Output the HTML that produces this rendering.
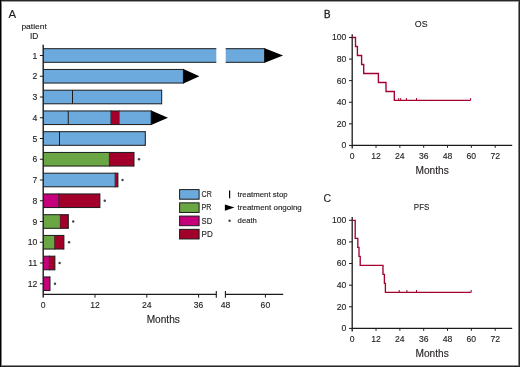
<!DOCTYPE html>
<html><head><meta charset="utf-8"><style>
html,body{margin:0;padding:0;background:#fff;}
#fig{position:relative;width:520px;height:367px;overflow:hidden;background:#fff;}
</style></head><body><div id="fig">
<svg width="520" height="367" viewBox="0 0 520 367" style="position:absolute;left:0;top:0;will-change:transform">
<rect x="0" y="0" width="520" height="367" fill="#fff"/>
<text x="8.60" y="18.00" font-size="11.4" font-family="Liberation Sans, sans-serif" fill="#231f20" stroke="#231f20" stroke-width="0.14" text-anchor="start">A</text>
<text x="34.10" y="28.50" font-size="8.0" font-family="Liberation Sans, sans-serif" fill="#231f20" stroke="#231f20" stroke-width="0.14" text-anchor="middle" textLength="25.4" lengthAdjust="spacingAndGlyphs">patient</text>
<text x="34.10" y="39.10" font-size="8.3" font-family="Liberation Sans, sans-serif" fill="#231f20" stroke="#231f20" stroke-width="0.14" text-anchor="middle">ID</text>
<rect x="43.20" y="48.70" width="173.10" height="13.60" fill="#6caadd"/>
<line x1="43.20" y1="48.70" x2="216.30" y2="48.70" stroke="#1c1a1a" stroke-width="1"/>
<line x1="43.20" y1="62.30" x2="216.30" y2="62.30" stroke="#1c1a1a" stroke-width="1"/>
<rect x="225.70" y="48.70" width="38.90" height="13.60" fill="#6caadd"/>
<line x1="225.70" y1="48.70" x2="264.60" y2="48.70" stroke="#1c1a1a" stroke-width="1"/>
<line x1="225.70" y1="62.30" x2="264.60" y2="62.30" stroke="#1c1a1a" stroke-width="1"/>
<line x1="264.60" y1="48.20" x2="264.60" y2="62.80" stroke="#1c1a1a" stroke-width="1"/>
<polygon points="264.60,48.20 283.10,55.50 264.60,62.80" fill="#000"/>
<line x1="39.90" y1="55.50" x2="43.20" y2="55.50" stroke="#1c1a1a" stroke-width="1"/>
<text x="37.20" y="58.50" font-size="8.6" font-family="Liberation Sans, sans-serif" fill="#231f20" stroke="#231f20" stroke-width="0.14" text-anchor="end">1</text>
<rect x="43.20" y="69.45" width="140.20" height="13.60" fill="#6caadd"/>
<line x1="43.20" y1="69.45" x2="183.40" y2="69.45" stroke="#1c1a1a" stroke-width="1"/>
<line x1="43.20" y1="83.05" x2="183.40" y2="83.05" stroke="#1c1a1a" stroke-width="1"/>
<line x1="183.40" y1="68.95" x2="183.40" y2="83.55" stroke="#1c1a1a" stroke-width="1"/>
<polygon points="183.40,68.95 199.40,76.25 183.40,83.55" fill="#000"/>
<line x1="39.90" y1="76.25" x2="43.20" y2="76.25" stroke="#1c1a1a" stroke-width="1"/>
<text x="37.20" y="79.25" font-size="8.6" font-family="Liberation Sans, sans-serif" fill="#231f20" stroke="#231f20" stroke-width="0.14" text-anchor="end">2</text>
<rect x="43.20" y="90.20" width="118.50" height="13.60" fill="#6caadd"/>
<line x1="43.20" y1="90.20" x2="161.70" y2="90.20" stroke="#1c1a1a" stroke-width="1"/>
<line x1="43.20" y1="103.80" x2="161.70" y2="103.80" stroke="#1c1a1a" stroke-width="1"/>
<line x1="161.70" y1="89.70" x2="161.70" y2="104.30" stroke="#1c1a1a" stroke-width="1"/>
<line x1="72.50" y1="90.20" x2="72.50" y2="103.80" stroke="#1c1a1a" stroke-width="1"/>
<line x1="39.90" y1="97.00" x2="43.20" y2="97.00" stroke="#1c1a1a" stroke-width="1"/>
<text x="37.20" y="100.00" font-size="8.6" font-family="Liberation Sans, sans-serif" fill="#231f20" stroke="#231f20" stroke-width="0.14" text-anchor="end">3</text>
<rect x="43.20" y="110.95" width="67.80" height="13.60" fill="#6caadd"/>
<line x1="43.20" y1="110.95" x2="111.00" y2="110.95" stroke="#1c1a1a" stroke-width="1"/>
<line x1="43.20" y1="124.55" x2="111.00" y2="124.55" stroke="#1c1a1a" stroke-width="1"/>
<line x1="111.00" y1="110.45" x2="111.00" y2="125.05" stroke="#1c1a1a" stroke-width="1"/>
<rect x="111.00" y="110.95" width="8.50" height="13.60" fill="#a2002b"/>
<line x1="111.00" y1="110.95" x2="119.50" y2="110.95" stroke="#1c1a1a" stroke-width="1"/>
<line x1="111.00" y1="124.55" x2="119.50" y2="124.55" stroke="#1c1a1a" stroke-width="1"/>
<line x1="119.50" y1="110.45" x2="119.50" y2="125.05" stroke="#1c1a1a" stroke-width="1"/>
<rect x="119.50" y="110.95" width="31.70" height="13.60" fill="#6caadd"/>
<line x1="119.50" y1="110.95" x2="151.20" y2="110.95" stroke="#1c1a1a" stroke-width="1"/>
<line x1="119.50" y1="124.55" x2="151.20" y2="124.55" stroke="#1c1a1a" stroke-width="1"/>
<line x1="151.20" y1="110.45" x2="151.20" y2="125.05" stroke="#1c1a1a" stroke-width="1"/>
<line x1="68.25" y1="110.95" x2="68.25" y2="124.55" stroke="#1c1a1a" stroke-width="1"/>
<polygon points="151.20,110.45 168.00,117.75 151.20,125.05" fill="#000"/>
<line x1="39.90" y1="117.75" x2="43.20" y2="117.75" stroke="#1c1a1a" stroke-width="1"/>
<text x="37.20" y="120.75" font-size="8.6" font-family="Liberation Sans, sans-serif" fill="#231f20" stroke="#231f20" stroke-width="0.14" text-anchor="end">4</text>
<rect x="43.20" y="131.70" width="102.10" height="13.60" fill="#6caadd"/>
<line x1="43.20" y1="131.70" x2="145.30" y2="131.70" stroke="#1c1a1a" stroke-width="1"/>
<line x1="43.20" y1="145.30" x2="145.30" y2="145.30" stroke="#1c1a1a" stroke-width="1"/>
<line x1="145.30" y1="131.20" x2="145.30" y2="145.80" stroke="#1c1a1a" stroke-width="1"/>
<line x1="59.50" y1="131.70" x2="59.50" y2="145.30" stroke="#1c1a1a" stroke-width="1"/>
<line x1="39.90" y1="138.50" x2="43.20" y2="138.50" stroke="#1c1a1a" stroke-width="1"/>
<text x="37.20" y="141.50" font-size="8.6" font-family="Liberation Sans, sans-serif" fill="#231f20" stroke="#231f20" stroke-width="0.14" text-anchor="end">5</text>
<rect x="43.20" y="152.45" width="66.20" height="13.60" fill="#6ba644"/>
<line x1="43.20" y1="152.45" x2="109.40" y2="152.45" stroke="#1c1a1a" stroke-width="1"/>
<line x1="43.20" y1="166.05" x2="109.40" y2="166.05" stroke="#1c1a1a" stroke-width="1"/>
<line x1="109.40" y1="151.95" x2="109.40" y2="166.55" stroke="#1c1a1a" stroke-width="1"/>
<rect x="109.40" y="152.45" width="24.60" height="13.60" fill="#a2002b"/>
<line x1="109.40" y1="152.45" x2="134.00" y2="152.45" stroke="#1c1a1a" stroke-width="1"/>
<line x1="109.40" y1="166.05" x2="134.00" y2="166.05" stroke="#1c1a1a" stroke-width="1"/>
<line x1="134.00" y1="151.95" x2="134.00" y2="166.55" stroke="#1c1a1a" stroke-width="1"/>
<circle cx="139.00" cy="159.25" r="1.2" fill="#444"/>
<line x1="39.90" y1="159.25" x2="43.20" y2="159.25" stroke="#1c1a1a" stroke-width="1"/>
<text x="37.20" y="162.25" font-size="8.6" font-family="Liberation Sans, sans-serif" fill="#231f20" stroke="#231f20" stroke-width="0.14" text-anchor="end">6</text>
<rect x="43.20" y="173.20" width="72.00" height="13.60" fill="#6caadd"/>
<line x1="43.20" y1="173.20" x2="115.20" y2="173.20" stroke="#1c1a1a" stroke-width="1"/>
<line x1="43.20" y1="186.80" x2="115.20" y2="186.80" stroke="#1c1a1a" stroke-width="1"/>
<line x1="115.20" y1="172.70" x2="115.20" y2="187.30" stroke="#1c1a1a" stroke-width="1"/>
<rect x="115.20" y="173.20" width="2.70" height="13.60" fill="#a2002b"/>
<line x1="115.20" y1="173.20" x2="117.90" y2="173.20" stroke="#1c1a1a" stroke-width="1"/>
<line x1="115.20" y1="186.80" x2="117.90" y2="186.80" stroke="#1c1a1a" stroke-width="1"/>
<line x1="117.90" y1="172.70" x2="117.90" y2="187.30" stroke="#1c1a1a" stroke-width="1"/>
<circle cx="122.50" cy="180.00" r="1.2" fill="#444"/>
<line x1="39.90" y1="180.00" x2="43.20" y2="180.00" stroke="#1c1a1a" stroke-width="1"/>
<text x="37.20" y="183.00" font-size="8.6" font-family="Liberation Sans, sans-serif" fill="#231f20" stroke="#231f20" stroke-width="0.14" text-anchor="end">7</text>
<rect x="43.20" y="193.95" width="15.70" height="13.60" fill="#c5007a"/>
<line x1="43.20" y1="193.95" x2="58.90" y2="193.95" stroke="#1c1a1a" stroke-width="1"/>
<line x1="43.20" y1="207.55" x2="58.90" y2="207.55" stroke="#1c1a1a" stroke-width="1"/>
<line x1="58.90" y1="193.45" x2="58.90" y2="208.05" stroke="#1c1a1a" stroke-width="1"/>
<rect x="58.90" y="193.95" width="41.00" height="13.60" fill="#a2002b"/>
<line x1="58.90" y1="193.95" x2="99.90" y2="193.95" stroke="#1c1a1a" stroke-width="1"/>
<line x1="58.90" y1="207.55" x2="99.90" y2="207.55" stroke="#1c1a1a" stroke-width="1"/>
<line x1="99.90" y1="193.45" x2="99.90" y2="208.05" stroke="#1c1a1a" stroke-width="1"/>
<circle cx="104.75" cy="200.75" r="1.2" fill="#444"/>
<line x1="39.90" y1="200.75" x2="43.20" y2="200.75" stroke="#1c1a1a" stroke-width="1"/>
<text x="37.20" y="203.75" font-size="8.6" font-family="Liberation Sans, sans-serif" fill="#231f20" stroke="#231f20" stroke-width="0.14" text-anchor="end">8</text>
<rect x="43.20" y="214.70" width="17.20" height="13.60" fill="#6ba644"/>
<line x1="43.20" y1="214.70" x2="60.40" y2="214.70" stroke="#1c1a1a" stroke-width="1"/>
<line x1="43.20" y1="228.30" x2="60.40" y2="228.30" stroke="#1c1a1a" stroke-width="1"/>
<line x1="60.40" y1="214.20" x2="60.40" y2="228.80" stroke="#1c1a1a" stroke-width="1"/>
<rect x="60.40" y="214.70" width="7.90" height="13.60" fill="#a2002b"/>
<line x1="60.40" y1="214.70" x2="68.30" y2="214.70" stroke="#1c1a1a" stroke-width="1"/>
<line x1="60.40" y1="228.30" x2="68.30" y2="228.30" stroke="#1c1a1a" stroke-width="1"/>
<line x1="68.30" y1="214.20" x2="68.30" y2="228.80" stroke="#1c1a1a" stroke-width="1"/>
<circle cx="73.20" cy="221.50" r="1.2" fill="#444"/>
<line x1="39.90" y1="221.50" x2="43.20" y2="221.50" stroke="#1c1a1a" stroke-width="1"/>
<text x="37.20" y="224.50" font-size="8.6" font-family="Liberation Sans, sans-serif" fill="#231f20" stroke="#231f20" stroke-width="0.14" text-anchor="end">9</text>
<rect x="43.20" y="235.45" width="11.60" height="13.60" fill="#6ba644"/>
<line x1="43.20" y1="235.45" x2="54.80" y2="235.45" stroke="#1c1a1a" stroke-width="1"/>
<line x1="43.20" y1="249.05" x2="54.80" y2="249.05" stroke="#1c1a1a" stroke-width="1"/>
<line x1="54.80" y1="234.95" x2="54.80" y2="249.55" stroke="#1c1a1a" stroke-width="1"/>
<rect x="54.80" y="235.45" width="9.10" height="13.60" fill="#a2002b"/>
<line x1="54.80" y1="235.45" x2="63.90" y2="235.45" stroke="#1c1a1a" stroke-width="1"/>
<line x1="54.80" y1="249.05" x2="63.90" y2="249.05" stroke="#1c1a1a" stroke-width="1"/>
<line x1="63.90" y1="234.95" x2="63.90" y2="249.55" stroke="#1c1a1a" stroke-width="1"/>
<circle cx="69.10" cy="242.25" r="1.2" fill="#444"/>
<line x1="39.90" y1="242.25" x2="43.20" y2="242.25" stroke="#1c1a1a" stroke-width="1"/>
<text x="37.20" y="245.25" font-size="8.6" font-family="Liberation Sans, sans-serif" fill="#231f20" stroke="#231f20" stroke-width="0.14" text-anchor="end">10</text>
<rect x="43.20" y="256.20" width="6.20" height="13.60" fill="#c5007a"/>
<line x1="43.20" y1="256.20" x2="49.40" y2="256.20" stroke="#1c1a1a" stroke-width="1"/>
<line x1="43.20" y1="269.80" x2="49.40" y2="269.80" stroke="#1c1a1a" stroke-width="1"/>
<line x1="49.40" y1="255.70" x2="49.40" y2="270.30" stroke="#1c1a1a" stroke-width="1"/>
<rect x="49.40" y="256.20" width="5.50" height="13.60" fill="#a2002b"/>
<line x1="49.40" y1="256.20" x2="54.90" y2="256.20" stroke="#1c1a1a" stroke-width="1"/>
<line x1="49.40" y1="269.80" x2="54.90" y2="269.80" stroke="#1c1a1a" stroke-width="1"/>
<line x1="54.90" y1="255.70" x2="54.90" y2="270.30" stroke="#1c1a1a" stroke-width="1"/>
<circle cx="59.60" cy="263.00" r="1.2" fill="#444"/>
<line x1="39.90" y1="263.00" x2="43.20" y2="263.00" stroke="#1c1a1a" stroke-width="1"/>
<text x="37.20" y="266.00" font-size="8.6" font-family="Liberation Sans, sans-serif" fill="#231f20" stroke="#231f20" stroke-width="0.14" text-anchor="end">11</text>
<rect x="43.20" y="276.95" width="6.80" height="13.60" fill="#c5007a"/>
<line x1="43.20" y1="276.95" x2="50.00" y2="276.95" stroke="#1c1a1a" stroke-width="1"/>
<line x1="43.20" y1="290.55" x2="50.00" y2="290.55" stroke="#1c1a1a" stroke-width="1"/>
<line x1="50.00" y1="276.45" x2="50.00" y2="291.05" stroke="#1c1a1a" stroke-width="1"/>
<circle cx="55.00" cy="283.75" r="1.2" fill="#444"/>
<line x1="39.90" y1="283.75" x2="43.20" y2="283.75" stroke="#1c1a1a" stroke-width="1"/>
<text x="37.20" y="286.75" font-size="8.6" font-family="Liberation Sans, sans-serif" fill="#231f20" stroke="#231f20" stroke-width="0.14" text-anchor="end">12</text>
<line x1="43.20" y1="44.8" x2="43.20" y2="297.6" stroke="#1c1a1a" stroke-width="1.4"/>
<line x1="43.20" y1="294.35" x2="216.3" y2="294.35" stroke="#1c1a1a" stroke-width="1.3"/>
<line x1="216.3" y1="291.1" x2="216.3" y2="297.7" stroke="#1c1a1a" stroke-width="1.1"/>
<line x1="225.4" y1="294.35" x2="283.2" y2="294.35" stroke="#1c1a1a" stroke-width="1.3"/>
<line x1="225.4" y1="291.1" x2="225.4" y2="297.7" stroke="#1c1a1a" stroke-width="1.1"/>
<text x="43.20" y="308.00" font-size="8.6" font-family="Liberation Sans, sans-serif" fill="#231f20" stroke="#231f20" stroke-width="0.14" text-anchor="middle">0</text>
<line x1="95.0" y1="294.35" x2="95.0" y2="297.6" stroke="#1c1a1a" stroke-width="1"/>
<text x="95.00" y="308.00" font-size="8.6" font-family="Liberation Sans, sans-serif" fill="#231f20" stroke="#231f20" stroke-width="0.14" text-anchor="middle">12</text>
<line x1="146.8" y1="294.35" x2="146.8" y2="297.6" stroke="#1c1a1a" stroke-width="1"/>
<text x="146.80" y="308.00" font-size="8.6" font-family="Liberation Sans, sans-serif" fill="#231f20" stroke="#231f20" stroke-width="0.14" text-anchor="middle">24</text>
<line x1="198.6" y1="294.35" x2="198.6" y2="297.6" stroke="#1c1a1a" stroke-width="1"/>
<text x="198.60" y="308.00" font-size="8.6" font-family="Liberation Sans, sans-serif" fill="#231f20" stroke="#231f20" stroke-width="0.14" text-anchor="middle">36</text>
<text x="225.60" y="308.00" font-size="8.6" font-family="Liberation Sans, sans-serif" fill="#231f20" stroke="#231f20" stroke-width="0.14" text-anchor="middle">48</text>
<line x1="265.4" y1="294.35" x2="265.4" y2="297.6" stroke="#1c1a1a" stroke-width="1"/>
<text x="265.40" y="308.00" font-size="8.6" font-family="Liberation Sans, sans-serif" fill="#231f20" stroke="#231f20" stroke-width="0.14" text-anchor="middle">60</text>
<text x="163.30" y="322.70" font-size="10.3" font-family="Liberation Sans, sans-serif" fill="#231f20" stroke="#231f20" stroke-width="0.14" text-anchor="middle" textLength="33.2" lengthAdjust="spacingAndGlyphs">Months</text>
<rect x="179.6" y="189.60" width="19.5" height="9.6" fill="#6caadd" stroke="#1c1a1a" stroke-width="1"/>
<text x="201.60" y="197.20" font-size="8.4" font-family="Liberation Sans, sans-serif" fill="#231f20" stroke="#231f20" stroke-width="0.14" text-anchor="start" textLength="10.2" lengthAdjust="spacingAndGlyphs">CR</text>
<rect x="179.6" y="202.85" width="19.5" height="9.6" fill="#6ba644" stroke="#1c1a1a" stroke-width="1"/>
<text x="201.60" y="210.45" font-size="8.4" font-family="Liberation Sans, sans-serif" fill="#231f20" stroke="#231f20" stroke-width="0.14" text-anchor="start" textLength="9.9" lengthAdjust="spacingAndGlyphs">PR</text>
<rect x="179.6" y="216.10" width="19.5" height="9.6" fill="#c5007a" stroke="#1c1a1a" stroke-width="1"/>
<text x="201.60" y="223.70" font-size="8.4" font-family="Liberation Sans, sans-serif" fill="#231f20" stroke="#231f20" stroke-width="0.14" text-anchor="start" textLength="10.7" lengthAdjust="spacingAndGlyphs">SD</text>
<rect x="179.6" y="229.35" width="19.5" height="9.6" fill="#a2002b" stroke="#1c1a1a" stroke-width="1"/>
<text x="201.60" y="236.95" font-size="8.4" font-family="Liberation Sans, sans-serif" fill="#231f20" stroke="#231f20" stroke-width="0.14" text-anchor="start" textLength="11.2" lengthAdjust="spacingAndGlyphs">PD</text>
<line x1="229.6" y1="190.6" x2="229.6" y2="198.2" stroke="#000" stroke-width="1.2"/>
<text x="237.60" y="197.40" font-size="7.9" font-family="Liberation Sans, sans-serif" fill="#231f20" stroke="#231f20" stroke-width="0.14" text-anchor="start" textLength="50.0" lengthAdjust="spacingAndGlyphs">treatment stop</text>
<polygon points="224.9,204.5 234.5,207.6 224.9,210.7" fill="#000"/>
<text x="237.60" y="210.40" font-size="7.9" font-family="Liberation Sans, sans-serif" fill="#231f20" stroke="#231f20" stroke-width="0.14" text-anchor="start" textLength="64.2" lengthAdjust="spacingAndGlyphs">treatment ongoing</text>
<circle cx="229.6" cy="220.7" r="1.2" fill="#444"/>
<text x="237.60" y="223.40" font-size="7.9" font-family="Liberation Sans, sans-serif" fill="#231f20" stroke="#231f20" stroke-width="0.14" text-anchor="start" textLength="19.3" lengthAdjust="spacingAndGlyphs">death</text>
<text x="324.00" y="18.00" font-size="11.4" font-family="Liberation Sans, sans-serif" fill="#231f20" stroke="#231f20" stroke-width="0.4" text-anchor="start" textLength="6.5" lengthAdjust="spacingAndGlyphs">B</text>
<text x="421.20" y="27.00" font-size="9.9" font-family="Liberation Sans, sans-serif" fill="#231f20" stroke="#231f20" stroke-width="0.14" text-anchor="middle" textLength="12.8" lengthAdjust="spacingAndGlyphs">OS</text>
<line x1="352.2" y1="34.30" x2="352.2" y2="148.40" stroke="#1c1a1a" stroke-width="1.3"/>
<line x1="352.2" y1="145.40" x2="512.2" y2="145.40" stroke="#1c1a1a" stroke-width="1.4"/>
<line x1="349.00" y1="145.40" x2="352.2" y2="145.40" stroke="#1c1a1a" stroke-width="1"/>
<text x="346.30" y="148.30" font-size="8.6" font-family="Liberation Sans, sans-serif" fill="#231f20" stroke="#231f20" stroke-width="0.14" text-anchor="end">0</text>
<line x1="349.00" y1="123.82" x2="352.2" y2="123.82" stroke="#1c1a1a" stroke-width="1"/>
<text x="346.30" y="126.72" font-size="8.6" font-family="Liberation Sans, sans-serif" fill="#231f20" stroke="#231f20" stroke-width="0.14" text-anchor="end">20</text>
<line x1="349.00" y1="102.24" x2="352.2" y2="102.24" stroke="#1c1a1a" stroke-width="1"/>
<text x="346.30" y="105.14" font-size="8.6" font-family="Liberation Sans, sans-serif" fill="#231f20" stroke="#231f20" stroke-width="0.14" text-anchor="end">40</text>
<line x1="349.00" y1="80.66" x2="352.2" y2="80.66" stroke="#1c1a1a" stroke-width="1"/>
<text x="346.30" y="83.56" font-size="8.6" font-family="Liberation Sans, sans-serif" fill="#231f20" stroke="#231f20" stroke-width="0.14" text-anchor="end">60</text>
<line x1="349.00" y1="59.08" x2="352.2" y2="59.08" stroke="#1c1a1a" stroke-width="1"/>
<text x="346.30" y="61.98" font-size="8.6" font-family="Liberation Sans, sans-serif" fill="#231f20" stroke="#231f20" stroke-width="0.14" text-anchor="end">80</text>
<line x1="349.00" y1="37.50" x2="352.2" y2="37.50" stroke="#1c1a1a" stroke-width="1"/>
<text x="346.30" y="40.40" font-size="8.6" font-family="Liberation Sans, sans-serif" fill="#231f20" stroke="#231f20" stroke-width="0.14" text-anchor="end">100</text>
<text x="352.20" y="159.00" font-size="8.6" font-family="Liberation Sans, sans-serif" fill="#231f20" stroke="#231f20" stroke-width="0.14" text-anchor="middle">0</text>
<line x1="376.03" y1="145.40" x2="376.03" y2="147.80" stroke="#1c1a1a" stroke-width="1"/>
<text x="376.03" y="159.00" font-size="8.6" font-family="Liberation Sans, sans-serif" fill="#231f20" stroke="#231f20" stroke-width="0.14" text-anchor="middle">12</text>
<line x1="399.86" y1="145.40" x2="399.86" y2="147.80" stroke="#1c1a1a" stroke-width="1"/>
<text x="399.86" y="159.00" font-size="8.6" font-family="Liberation Sans, sans-serif" fill="#231f20" stroke="#231f20" stroke-width="0.14" text-anchor="middle">24</text>
<line x1="423.70" y1="145.40" x2="423.70" y2="147.80" stroke="#1c1a1a" stroke-width="1"/>
<text x="423.70" y="159.00" font-size="8.6" font-family="Liberation Sans, sans-serif" fill="#231f20" stroke="#231f20" stroke-width="0.14" text-anchor="middle">36</text>
<line x1="447.53" y1="145.40" x2="447.53" y2="147.80" stroke="#1c1a1a" stroke-width="1"/>
<text x="447.53" y="159.00" font-size="8.6" font-family="Liberation Sans, sans-serif" fill="#231f20" stroke="#231f20" stroke-width="0.14" text-anchor="middle">48</text>
<line x1="471.36" y1="145.40" x2="471.36" y2="147.80" stroke="#1c1a1a" stroke-width="1"/>
<text x="471.36" y="159.00" font-size="8.6" font-family="Liberation Sans, sans-serif" fill="#231f20" stroke="#231f20" stroke-width="0.14" text-anchor="middle">60</text>
<line x1="495.19" y1="145.40" x2="495.19" y2="147.80" stroke="#1c1a1a" stroke-width="1"/>
<text x="495.19" y="159.00" font-size="8.6" font-family="Liberation Sans, sans-serif" fill="#231f20" stroke="#231f20" stroke-width="0.14" text-anchor="middle">72</text>
<text x="432.10" y="173.70" font-size="10.0" font-family="Liberation Sans, sans-serif" fill="#231f20" stroke="#231f20" stroke-width="0.14" text-anchor="middle" textLength="33.2" lengthAdjust="spacingAndGlyphs">Months</text>
<path d="M352.20,37.50 L355.50,37.50 L355.50,46.49 L357.40,46.49 L357.40,55.48 L361.60,55.48 L361.60,64.47 L363.70,64.47 L363.70,73.47 L378.40,73.47 L378.40,82.46 L386.00,82.46 L386.00,91.45 L394.30,91.45 L394.30,100.44 L470.60,100.44" fill="none" stroke="#a3022e" stroke-width="1.35" stroke-linejoin="miter"/>
<line x1="398.70" y1="100.44" x2="398.70" y2="98.04" stroke="#a3022e" stroke-width="1"/>
<line x1="400.70" y1="100.44" x2="400.70" y2="98.04" stroke="#a3022e" stroke-width="1"/>
<line x1="406.40" y1="100.44" x2="406.40" y2="98.04" stroke="#a3022e" stroke-width="1"/>
<line x1="416.50" y1="100.44" x2="416.50" y2="98.04" stroke="#a3022e" stroke-width="1"/>
<line x1="470.60" y1="100.44" x2="470.60" y2="98.04" stroke="#a3022e" stroke-width="1"/>
<text x="323.60" y="201.60" font-size="11.6" font-family="Liberation Sans, sans-serif" fill="#231f20" stroke="#231f20" stroke-width="0.14" text-anchor="start" textLength="7.6" lengthAdjust="spacingAndGlyphs">C</text>
<text x="421.60" y="210.10" font-size="9.9" font-family="Liberation Sans, sans-serif" fill="#231f20" stroke="#231f20" stroke-width="0.14" text-anchor="middle" textLength="15.6" lengthAdjust="spacingAndGlyphs">PFS</text>
<line x1="352.2" y1="217.10" x2="352.2" y2="331.40" stroke="#1c1a1a" stroke-width="1.3"/>
<line x1="352.2" y1="328.40" x2="512.2" y2="328.40" stroke="#1c1a1a" stroke-width="1.4"/>
<line x1="349.00" y1="328.40" x2="352.2" y2="328.40" stroke="#1c1a1a" stroke-width="1"/>
<text x="346.30" y="331.30" font-size="8.6" font-family="Liberation Sans, sans-serif" fill="#231f20" stroke="#231f20" stroke-width="0.14" text-anchor="end">0</text>
<line x1="349.00" y1="306.78" x2="352.2" y2="306.78" stroke="#1c1a1a" stroke-width="1"/>
<text x="346.30" y="309.68" font-size="8.6" font-family="Liberation Sans, sans-serif" fill="#231f20" stroke="#231f20" stroke-width="0.14" text-anchor="end">20</text>
<line x1="349.00" y1="285.16" x2="352.2" y2="285.16" stroke="#1c1a1a" stroke-width="1"/>
<text x="346.30" y="288.06" font-size="8.6" font-family="Liberation Sans, sans-serif" fill="#231f20" stroke="#231f20" stroke-width="0.14" text-anchor="end">40</text>
<line x1="349.00" y1="263.54" x2="352.2" y2="263.54" stroke="#1c1a1a" stroke-width="1"/>
<text x="346.30" y="266.44" font-size="8.6" font-family="Liberation Sans, sans-serif" fill="#231f20" stroke="#231f20" stroke-width="0.14" text-anchor="end">60</text>
<line x1="349.00" y1="241.92" x2="352.2" y2="241.92" stroke="#1c1a1a" stroke-width="1"/>
<text x="346.30" y="244.82" font-size="8.6" font-family="Liberation Sans, sans-serif" fill="#231f20" stroke="#231f20" stroke-width="0.14" text-anchor="end">80</text>
<line x1="349.00" y1="220.30" x2="352.2" y2="220.30" stroke="#1c1a1a" stroke-width="1"/>
<text x="346.30" y="223.20" font-size="8.6" font-family="Liberation Sans, sans-serif" fill="#231f20" stroke="#231f20" stroke-width="0.14" text-anchor="end">100</text>
<text x="352.20" y="342.00" font-size="8.6" font-family="Liberation Sans, sans-serif" fill="#231f20" stroke="#231f20" stroke-width="0.14" text-anchor="middle">0</text>
<line x1="376.03" y1="328.40" x2="376.03" y2="330.80" stroke="#1c1a1a" stroke-width="1"/>
<text x="376.03" y="342.00" font-size="8.6" font-family="Liberation Sans, sans-serif" fill="#231f20" stroke="#231f20" stroke-width="0.14" text-anchor="middle">12</text>
<line x1="399.86" y1="328.40" x2="399.86" y2="330.80" stroke="#1c1a1a" stroke-width="1"/>
<text x="399.86" y="342.00" font-size="8.6" font-family="Liberation Sans, sans-serif" fill="#231f20" stroke="#231f20" stroke-width="0.14" text-anchor="middle">24</text>
<line x1="423.70" y1="328.40" x2="423.70" y2="330.80" stroke="#1c1a1a" stroke-width="1"/>
<text x="423.70" y="342.00" font-size="8.6" font-family="Liberation Sans, sans-serif" fill="#231f20" stroke="#231f20" stroke-width="0.14" text-anchor="middle">36</text>
<line x1="447.53" y1="328.40" x2="447.53" y2="330.80" stroke="#1c1a1a" stroke-width="1"/>
<text x="447.53" y="342.00" font-size="8.6" font-family="Liberation Sans, sans-serif" fill="#231f20" stroke="#231f20" stroke-width="0.14" text-anchor="middle">48</text>
<line x1="471.36" y1="328.40" x2="471.36" y2="330.80" stroke="#1c1a1a" stroke-width="1"/>
<text x="471.36" y="342.00" font-size="8.6" font-family="Liberation Sans, sans-serif" fill="#231f20" stroke="#231f20" stroke-width="0.14" text-anchor="middle">60</text>
<line x1="495.19" y1="328.40" x2="495.19" y2="330.80" stroke="#1c1a1a" stroke-width="1"/>
<text x="495.19" y="342.00" font-size="8.6" font-family="Liberation Sans, sans-serif" fill="#231f20" stroke="#231f20" stroke-width="0.14" text-anchor="middle">72</text>
<text x="432.10" y="356.70" font-size="10.0" font-family="Liberation Sans, sans-serif" fill="#231f20" stroke="#231f20" stroke-width="0.14" text-anchor="middle" textLength="33.2" lengthAdjust="spacingAndGlyphs">Months</text>
<path d="M352.20,220.30 L355.20,220.30 L355.20,238.32 L357.80,238.32 L357.80,247.33 L359.00,247.33 L359.00,256.33 L360.20,256.33 L360.20,265.34 L383.00,265.34 L383.00,274.35 L384.40,274.35 L384.40,283.36 L385.40,283.36 L385.40,292.37 L471.20,292.37" fill="none" stroke="#a3022e" stroke-width="1.35" stroke-linejoin="miter"/>
<line x1="399.20" y1="292.37" x2="399.20" y2="289.97" stroke="#a3022e" stroke-width="1"/>
<line x1="406.90" y1="292.37" x2="406.90" y2="289.97" stroke="#a3022e" stroke-width="1"/>
<line x1="416.50" y1="292.37" x2="416.50" y2="289.97" stroke="#a3022e" stroke-width="1"/>
<line x1="471.20" y1="292.37" x2="471.20" y2="289.97" stroke="#a3022e" stroke-width="1"/>
<rect x="0" y="1" width="520" height="1" fill="#9a9a9a"/>
<rect x="0" y="365" width="520" height="1" fill="#8a8a8a"/>
<rect x="1" y="0" width="1" height="367" fill="#808080"/>
<rect x="518" y="0" width="1" height="367" fill="#808080"/>
<rect x="0" y="0" width="520" height="1" fill="#262626"/>
<rect x="0" y="366" width="520" height="1" fill="#262626"/>
<rect x="0" y="0" width="1" height="367" fill="#000"/>
<rect x="519" y="0" width="1" height="367" fill="#262626"/>
</svg>
</div></body></html>
